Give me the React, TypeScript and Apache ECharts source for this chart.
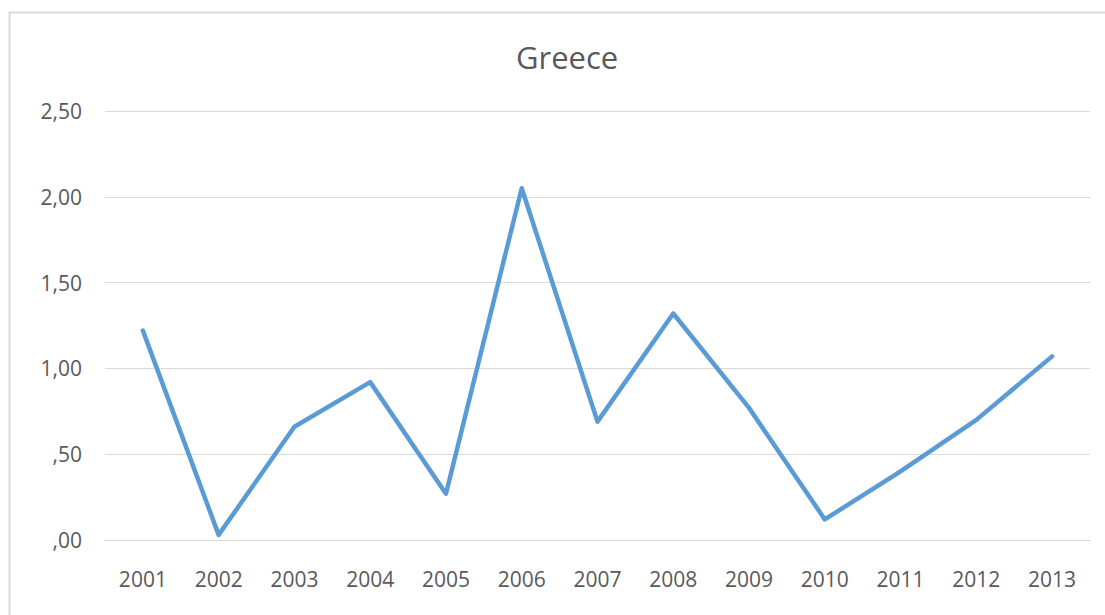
import React, { useEffect, useRef } from "react";
import * as echarts from "echarts";

const years = ["2001", "2002", "2003", "2004", "2005", "2006", "2007", "2008", "2009", "2010", "2011", "2012", "2013"];
const values = [1.22, 0.03, 0.66, 0.92, 0.27, 2.05, 0.69, 1.32, 0.77, 0.12, 0.40, 0.70, 1.07];
const titleText = "Greece";

function fmt(v: number): string {
  const s = v.toFixed(2).replace(".", ",");
  return s.startsWith("0") ? s.slice(1) : s;
}

export default function App() {
  const ref = useRef<HTMLDivElement>(null);
  useEffect(() => {
    if (!ref.current) return;
    const chart = echarts.init(ref.current, undefined, { renderer: "svg" });
    chart.setOption({
      animation: false,
      backgroundColor: "#ffffff",
      title: {
        text: titleText,
        left: 511,
        top: 36,
        textStyle: { fontFamily: "Open Sans", fontSize: 31, fontWeight: "normal", color: "#595959" },
      },
      graphic: [
        {
          type: "rect",
          shape: { x: 9.5, y: 12.5, width: 1120, height: 640 },
          style: { fill: "none", stroke: "#d9d9d9", lineWidth: 2 },
          silent: true,
        },
      ],
      grid: { left: 105, right: 15, top: 111, bottom: 75 },
      xAxis: {
        type: "category",
        data: years,
        boundaryGap: true,
        axisLine: { show: true, lineStyle: { color: "#d9d9d9", width: 1 } },
        axisTick: { show: false },
        axisLabel: { fontFamily: "Open Sans", fontSize: 21, color: "#595959", margin: 28 },
      },
      yAxis: {
        type: "value",
        min: 0,
        max: 2.5,
        interval: 0.5,
        axisLine: { show: false },
        axisTick: { show: false },
        splitLine: { lineStyle: { color: "#d9d9d9", width: 1 } },
        axisLabel: {
          fontFamily: "Open Sans",
          fontSize: 21,
          color: "#595959",
          margin: 23,
          formatter: (v: number) => fmt(v),
        },
      },
      series: [
        {
          type: "line",
          data: values,
          symbol: "none",
          lineStyle: { color: "#5b9bd5", width: 4.5, cap: "round", join: "round" },
        },
      ],
    });
    return () => chart.dispose();
  }, []);
  return <div ref={ref} style={{ position: "absolute", left: 0, top: 0, width: 1105, height: 615 }} />;
}
